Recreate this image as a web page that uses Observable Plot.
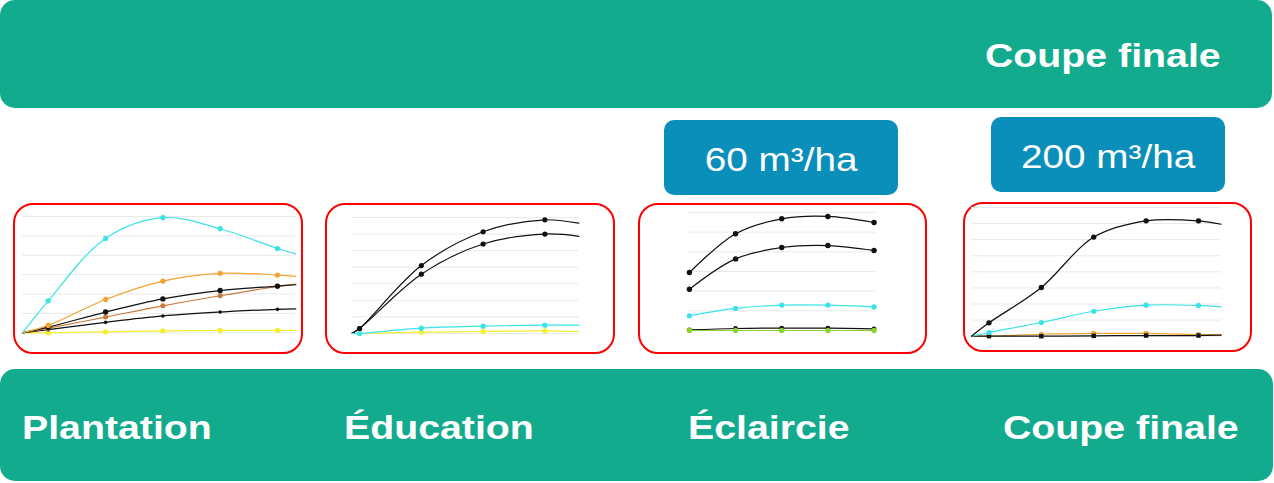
<!DOCTYPE html>
<html lang="fr">
<head>
<meta charset="utf-8">
<script src="https://cdn.jsdelivr.net/npm/d3@7"></script>
<script src="https://cdn.jsdelivr.net/npm/@observablehq/plot@0.6"></script>
<style>
  html, body { margin: 0; padding: 0; background: #ffffff; }
  body { width: 1274px; height: 483px; position: relative; overflow: hidden;
         font-family: "Liberation Sans", Arial, sans-serif; }
  .banner { position: absolute; background: #13AB8E; border-radius: 15px; }
  .box { position: absolute; background: #0A8FBA; border-radius: 10px; }
  .frame { position: absolute; box-sizing: border-box; border: 2.5px solid #FF0000; border-radius: 20px; }
  .lbl { position: absolute; color: #ffffff; font-weight: bold; font-size: 33px; line-height: 33px;
         white-space: nowrap; transform: scaleX(1.19); transform-origin: left top; }
  .boxlbl { position: absolute; color: #ffffff; font-size: 32.5px; line-height: 32.5px;
            white-space: nowrap; text-align: center; }
  .boxlbl span { display: inline-block; transform: scaleX(1.19); transform-origin: center; }
  .chart { position: absolute; }
</style>
</head>
<body>
<script>
// ---------- Texts ----------
const topLabel = "Coupe finale";
const stageLabels = ["Plantation", "Éducation", "Éclaircie", "Coupe finale"];
const volumeLabels = ["60 m³/ha", "200 m³/ha"];

// ---------- Panel 1 : Plantation ----------
const p1X       = [0, 4.5, 14.5, 24.5, 34.5, 44.5, 47.7];
const p1Cyan    = [0, 1.65, 4.87, 5.94, 5.37, 4.35, 4.07];
const p1Orange  = [0, 0.38, 1.72, 2.67, 3.07, 2.98, 2.91];
const p1Black   = [0, 0.29, 1.07, 1.75, 2.18, 2.41, 2.48];
const p1Brown   = [0, 0.24, 0.81, 1.39, 1.91, 2.39, 2.51];
const p1Black2  = [0, 0.16, 0.54, 0.87, 1.07, 1.21, 1.23];
const p1Yellow  = [0, 0.00, 0.05, 0.10, 0.12, 0.12, 0.12];

// ---------- Panel 2 : Éducation ----------
const p2X       = [0, 1.3, 11.3, 21.3, 31.3, 36.8];
const p2Black   = [0, 0.30, 4.10, 6.14, 6.86, 6.66];
const p2Black2  = [0, 0.30, 3.58, 5.40, 6.00, 5.86];
const p2Cyan    = [0, 0.00, 0.32, 0.44, 0.50, 0.50];
const p2Yellow  = [0, 0.00, 0.08, 0.12, 0.16, 0.12];

// ---------- Panel 3 : Éclaircie ----------
const p3X       = [0, 1, 2, 3, 4];
const p3Black   = [2.95, 4.92, 5.68, 5.80, 5.49];
const p3Black2  = [2.10, 3.64, 4.22, 4.32, 4.07];
const p3Cyan    = [0.75, 1.12, 1.29, 1.29, 1.20];
const p3Black3  = [0.03, 0.10, 0.12, 0.12, 0.08];
const p3Green   = [0, 0, 0, 0, 0];

// ---------- Panel 4 : Coupe finale ----------
const p4X       = [0, 1, 4, 7, 10, 13, 14.3];
const p4Black   = [0, 0.83, 3.03, 6.16, 7.17, 7.17, 6.96];
const p4Cyan    = [0, 0.23, 0.85, 1.55, 1.93, 1.91, 1.82];
const p4Orange  = [0, 0.00, 0.12, 0.17, 0.17, 0.10, 0.08];
const p4Black2  = [0, 0.00, 0.00, 0.02, 0.04, 0.04, 0.06];

// colours
const C = { cyan: "#3AE3E6", orange: "#F0A431", black: "#111111", brown: "#C8783A",
            yellow: "#F4EE2C", green: "#8CD12C" };

function el(cls, css, html) {
  const d = document.createElement("div");
  d.className = cls;
  Object.assign(d.style, css);
  if (html != null) d.innerHTML = html;
  document.body.appendChild(d);
  return d;
}

// ---------- Layout: banners, boxes ----------
el("banner", { left: "0px", top: "0px", width: "1272px", height: "108px" });
el("banner", { left: "0px", top: "369px", width: "1273px", height: "112px" });
el("lbl", { left: "985px", top: "39px" }).textContent = topLabel;

const stageLeft = [22, 344, 688, 1003];
stageLabels.forEach((t, i) => el("lbl", { left: stageLeft[i] + "px", top: "411px" }).textContent = t);

const boxes = [{ l: 664, t: 120 }, { l: 991, t: 117 }];
boxes.forEach((b, i) => {
  el("box", { left: b.l + "px", top: b.t + "px", width: "234px", height: "75px" });
  const d = el("boxlbl", { left: b.l + "px", top: (b.t + 24) + "px", width: "234px" });
  const s = document.createElement("span"); s.textContent = volumeLabels[i]; d.appendChild(s);
});

// ---------- Frames ----------
const frames = [
  { l: 13, t: 203, w: 290, h: 151 },
  { l: 325, t: 203, w: 290, h: 151 },
  { l: 638, t: 203, w: 289, h: 151 },
  { l: 963, t: 201.5, w: 289, h: 150.5 }
];
frames.forEach(f => el("frame", { left: f.l + "px", top: f.t + "px", width: f.w + "px", height: f.h + "px" }));

// ---------- Mini charts ----------
function panel(cfg) {
  const m = 6;
  const W = cfg.right - cfg.left, H = cfg.bottom - cfg.top;
  const marks = [Plot.ruleY(d3.range(0, cfg.yMax + 1), { stroke: "#e9e9e9", strokeWidth: 1 })];
  for (const s of cfg.series) {
    const rows = cfg.xs.map((x, i) => ({ x, y: s.values[i], i }));
    marks.push(Plot.line(rows, { x: "x", y: "y", stroke: s.color, strokeWidth: 1.2, curve: "catmull-rom" }));
  }
  for (const s of cfg.series) {
    const rows = cfg.xs.map((x, i) => ({ x, y: s.values[i], i })).filter(d => s.dots.includes(d.i));
    marks.push(Plot.dot(rows, { x: "x", y: "y", fill: s.color, stroke: "none", r: s.r, symbol: s.symbol || "circle" }));
  }
  const chart = Plot.plot({
    width: W + 2 * m, height: H + 2 * m,
    marginLeft: m, marginRight: m, marginTop: m, marginBottom: m,
    x: { domain: cfg.xDomain || [cfg.xs[0], cfg.xs[cfg.xs.length - 1]], axis: null },
    y: { domain: [0, cfg.yMax], axis: null },
    style: { background: "transparent", overflow: "visible" },
    marks
  });
  chart.classList.add("chart");
  chart.style.position = "absolute";
  chart.style.left = (cfg.left - m) + "px";
  chart.style.top = (cfg.top - m) + "px";
  document.body.appendChild(chart);
}

const mid = [1, 2, 3, 4, 5];
panel({ left: 21.7, right: 295, top: 215.7, bottom: 332, yMax: 6, xs: p1X, series: [
  { values: p1Yellow, color: C.yellow, r: 2.6, dots: mid },
  { values: p1Black2, color: C.black, r: 1.8, dots: mid },
  { values: p1Brown, color: C.brown, r: 2.5, dots: mid },
  { values: p1Black, color: C.black, r: 2.7, dots: mid },
  { values: p1Orange, color: C.orange, r: 2.6, dots: mid },
  { values: p1Cyan, color: C.cyan, r: 2.6, dots: mid }
]});

panel({ left: 351.3, right: 578.7, top: 217.3, bottom: 333.3, yMax: 7, xs: p2X, series: [
  { values: p2Yellow, color: C.yellow, r: 2.6, dots: [1, 2, 3, 4] },
  { values: p2Black2, color: C.black, r: 2.6, dots: [1, 2, 3, 4] },
  { values: p2Black, color: C.black, r: 2.6, dots: [1, 2, 3, 4] },
  { values: p2Cyan, color: C.cyan, r: 2.6, dots: [1, 2, 3, 4] }
]});

panel({ left: 688.3, right: 875.7, top: 211.7, bottom: 329.7, yMax: 6, xs: p3X, xDomain: [-0.02, 4.04], series: [
  { values: p3Black3, color: C.black, r: 2.4, dots: [0, 1, 2, 3, 4] },
  { values: p3Green, color: C.green, r: 2.7, dots: [0, 1, 2, 3, 4] },
  { values: p3Cyan, color: C.cyan, r: 2.6, dots: [0, 1, 2, 3, 4] },
  { values: p3Black2, color: C.black, r: 2.7, dots: [0, 1, 2, 3, 4] },
  { values: p3Black, color: C.black, r: 2.7, dots: [0, 1, 2, 3, 4] }
]});

panel({ left: 971, right: 1220.7, top: 207.3, bottom: 336, yMax: 8, xs: p4X, series: [
  { values: p4Orange, color: C.orange, r: 2.6, dots: [2, 3, 4, 5] },
  { values: p4Black2, color: C.black, r: 2.5, dots: mid, symbol: "square" },
  { values: p4Cyan, color: C.cyan, r: 2.6, dots: mid },
  { values: p4Black, color: C.black, r: 2.7, dots: mid }
]});
</script>
</body>
</html>
